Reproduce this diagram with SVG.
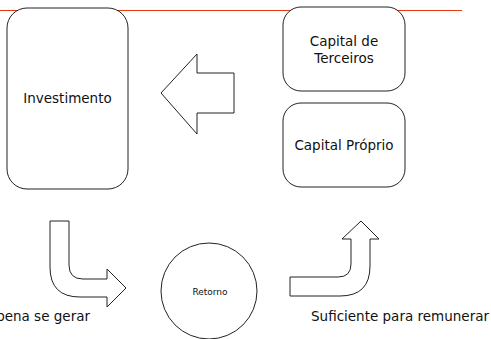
<svg xmlns="http://www.w3.org/2000/svg" width="491" height="339" viewBox="0 0 491 339">
<style>
.shape{fill:#fff;stroke:#222;stroke-width:1}
.lbl{font-family:"DejaVu Sans",Verdana,sans-serif;font-size:13.5px;fill:#111}
.sm{font-size:9px}
</style>
<rect width="491" height="339" fill="#fff"/>
<line x1="0" y1="10.5" x2="462" y2="10.5" stroke="#e8380d" stroke-width="1.2"/>
<g id="investimento">
<rect class="shape" x="7" y="8" width="121" height="181" rx="20" ry="20"/>
<text class="lbl" x="67.5" y="103" text-anchor="middle">Investimento</text>
</g>
<g id="capital-terceiros">
<rect class="shape" x="283" y="7" width="122" height="84" rx="18" ry="18"/>
<text class="lbl" x="344" y="46" text-anchor="middle">Capital de</text>
<text class="lbl" x="344" y="63" text-anchor="middle">Terceiros</text>
</g>
<g id="capital-proprio">
<rect class="shape" x="283" y="103" width="122" height="84" rx="18" ry="18"/>
<text class="lbl" x="344" y="150" text-anchor="middle">Capital Próprio</text>
</g>
<g id="retorno">
<circle class="shape" cx="209" cy="291" r="48"/>
<text class="lbl sm" x="210" y="295" text-anchor="middle">Retorno</text>
</g>
<g id="connectors">
<path class="shape" d="M161,93 L197,54 L197,73 L234,73 L234,113 L197,113 L197,134 Z"/>
<path class="shape" d="M50,221 L69,221 L69,265 Q69,279 83,279 L107,279 L107,269 L126,288 L107,307 L107,297 L80,297 Q50,297 50,267 Z"/>
<path class="shape" d="M290,277 L338,277 Q351,277 351,264 L351,239 L342,239 L361,221 L379,239 L370,239 L370,266 Q370,296 340,296 L290,296 Z"/>
</g>
<text class="lbl" x="90" y="321" text-anchor="end">pena se gerar</text>
<text class="lbl" x="311" y="321">Suficiente para remunerar</text>
</svg>
